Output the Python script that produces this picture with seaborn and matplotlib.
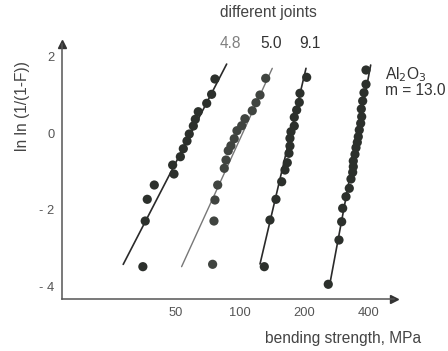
import numpy as np
import pandas as pd
import seaborn as sns
import matplotlib
matplotlib.use("Agg")
import matplotlib.pyplot as plt
from matplotlib.ticker import FixedLocator, FixedFormatter, NullLocator

# ---- data ----
series_names = ["4.8", "5.0", "9.1", "Al2O3"]

s1_x = [76.3, 73.6, 69.8, 63.7, 61.7, 60.4, 57.8, 56.4, 54.2, 52.5, 48.3, 49.0, 39.6, 36.7, 35.9, 35.0]
s1_y = [1.41, 1.01, 0.775, 0.556, 0.358, 0.183, -0.026, -0.209, -0.41, -0.619, -0.836, -1.07, -1.358, -1.731, -2.298, -3.49]

s2_x = [132.1, 124.2, 118.9, 114.2, 105.5, 101.9, 96.8, 94.0, 90.7, 88.1, 86.0, 84.4, 78.6, 76.3, 75.5, 74.4]
s2_y = [1.428, 0.992, 0.791, 0.582, 0.373, 0.19, 0.06, -0.149, -0.332, -0.462, -0.705, -0.922, -1.358, -1.749, -2.298, -3.428]

s3_x = [205.7, 191.3, 189.9, 184.6, 179.9, 179.9, 173.6, 171.7, 171.7, 169.9, 166.8, 162.7, 157.0, 147.6, 138.3, 130.1]
s3_y = [1.454, 1.037, 0.80, 0.60, 0.41, 0.183, 0.034, -0.138, -0.339, -0.53, -0.775, -0.966, -1.272, -1.731, -2.272, -3.49]

s4_x = [390.7, 390.7, 382.3, 376.9, 371.3, 372.9, 368.9, 363.3, 359.4, 355.6, 350.6, 346.8, 340.5, 340.5,
        338.3, 332.1, 326.1, 314.7, 303.6, 300.3, 291.7, 259.8]
s4_y = [1.645, 1.272, 1.052, 0.836, 0.627, 0.426, 0.253, 0.078, -0.097, -0.243, -0.384, -0.556, -0.731, -0.88,
        -1.026, -1.201, -1.444, -1.663, -1.966, -2.316, -2.794, -3.95]

# fitted lines (end points)
fit_x = {"4.8": [28.3, 86.6], "5.0": [53.2, 141.8], "9.1": [124.2, 204.2], "Al2O3": [264.6, 411.0]}
fit_y = {"4.8": [-3.43, 1.80], "5.0": [-3.49, 1.689], "9.1": [-3.42, 1.689], "Al2O3": [-3.924, 1.775]}

x_ticks = [50, 100, 200, 400]
x_ticklabels = ["50", "100", "200", "400"]
y_ticks = [2, 0, -2, -4]
y_ticklabels = ["2", "0", "- 2", "- 4"]

# ---- build table ----
pts = pd.concat([
    pd.DataFrame({"strength": s1_x, "weibull": s1_y, "series": "4.8"}),
    pd.DataFrame({"strength": s2_x, "weibull": s2_y, "series": "5.0"}),
    pd.DataFrame({"strength": s3_x, "weibull": s3_y, "series": "9.1"}),
    pd.DataFrame({"strength": s4_x, "weibull": s4_y, "series": "Al2O3"}),
], ignore_index=True)
fits = pd.concat([pd.DataFrame({"strength": fit_x[k], "weibull": fit_y[k], "series": k}) for k in series_names],
                 ignore_index=True)

sns.set_theme(style="white")
plt.rcParams['font.family'] = ['Liberation Sans', 'DejaVu Sans']

W, H = 448, 351
fig = plt.figure(figsize=(W / 100, H / 100), dpi=100)
ax_l, ax_r, ax_b, ax_t = 62, 394, 299, 44
ax = fig.add_axes([ax_l / W, 1 - ax_b / H, (ax_r - ax_l) / W, (ax_b - ax_t) / H])

point_colors = {"4.8": "#2c302c", "5.0": "#404440", "9.1": "#2c302c", "Al2O3": "#2c302c"}
line_colors = {"4.8": "#2a2a2a", "5.0": "#777777", "9.1": "#2a2a2a", "Al2O3": "#2a2a2a"}
line_widths = {"4.8": 1.2, "5.0": 1.0, "9.1": 1.2, "Al2O3": 1.2}

for k in series_names:
    sns.lineplot(data=fits[fits.series == k], x="strength", y="weibull", color=line_colors[k],
                 lw=line_widths[k], ax=ax, legend=False, zorder=2, sort=False)
sns.scatterplot(data=pts, x="strength", y="weibull", hue="series", palette=point_colors,
                s=44, linewidth=0, ax=ax, legend=False, zorder=3)

ax.set_xscale("log")
ax.set_xlim(14.6, 528.8)
ax.set_ylim(-4.334, 2.324)

ax.xaxis.set_major_locator(FixedLocator(x_ticks))
ax.xaxis.set_major_formatter(FixedFormatter(x_ticklabels))
ax.xaxis.set_minor_locator(NullLocator())
ax.yaxis.set_major_locator(FixedLocator(y_ticks))
ax.yaxis.set_major_formatter(FixedFormatter(y_ticklabels))
ax.yaxis.set_minor_locator(NullLocator())

ax.tick_params(axis="both", direction="in", length=11, width=0.8, colors="#707070",
               labelcolor="#555555", labelsize=9.3)
ax.tick_params(axis="x", pad=5.5)
ax.tick_params(axis="y", pad=5.5)
ax.set_xlabel("")
ax.set_ylabel("")
for sp in ["top", "right"]:
    ax.spines[sp].set_visible(False)
for sp in ["left", "bottom"]:
    ax.spines[sp].set_color("#555555")
    ax.spines[sp].set_linewidth(1.1)

ax.plot(1, 0, ">", color="#333333", markersize=5.5, transform=ax.transAxes, clip_on=False)
ax.plot(0, 1, "^", color="#333333", markersize=5.5, transform=ax.transAxes, clip_on=False)

def ftext(px, py, s, **kw):
    fig.text(px / W, 1 - py / H, s, **kw)

ftext(343, 339, "bending strength, MPa", ha="center", va="center", fontsize=11.2, color="#444444")
ftext(23, 106, "ln ln (1/(1-F))", ha="center", va="center", rotation=90, fontsize=11.2, color="#444444")
ftext(268.5, 13, "different joints", ha="center", va="center", fontsize=11.2, color="#444444")
ftext(230.8, 44, "4.8", ha="center", va="center", fontsize=11.2, color="#808080")
ftext(270.8, 44, "5.0", ha="center", va="center", fontsize=11.2, color="#333333")
ftext(310.3, 44, "9.1", ha="center", va="center", fontsize=11.2, color="#333333")
ftext(385, 79, "Al$_2$O$_3$", ha="left", va="baseline", fontsize=11.2, color="#333333")
ftext(385, 95, "m = 13.0", ha="left", va="baseline", fontsize=11.2, color="#333333")

fig.savefig("out.png", dpi=100)
